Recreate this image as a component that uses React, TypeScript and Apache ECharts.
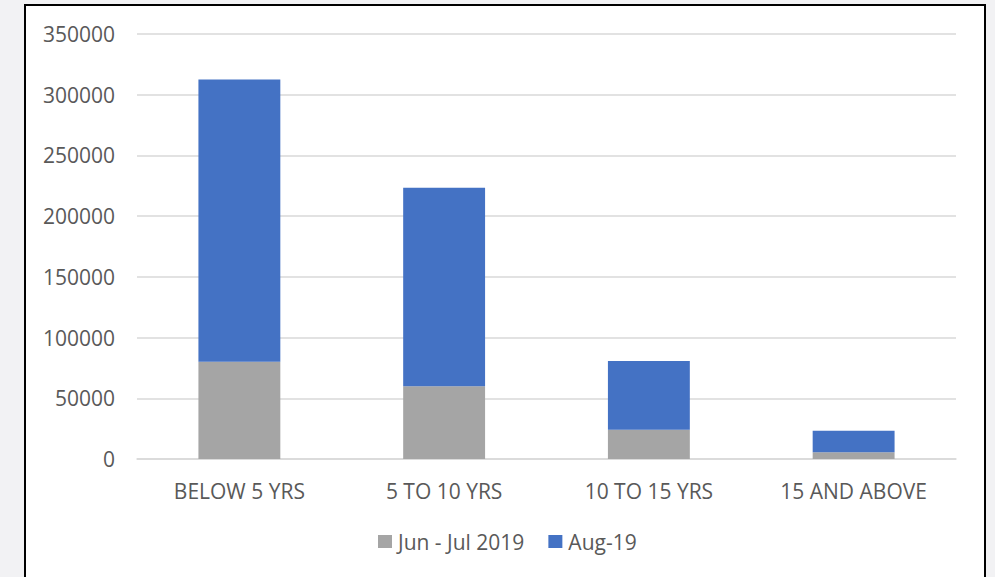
import React, { useEffect, useRef } from "react";
import * as echarts from "echarts";

const categories = ["BELOW 5 YRS", "5 TO 10 YRS", "10 TO 15 YRS", "15 AND ABOVE"];
const junJul2019 = [80000, 60000, 24000, 5500];
const aug19 = [232600, 163300, 56800, 17800];
const seriesNames = ["Jun - Jul 2019", "Aug-19"];

export default function App() {
  const ref = useRef<HTMLDivElement>(null);
  useEffect(() => {
    if (!ref.current) return;
    const chart = echarts.init(ref.current, null, { renderer: "svg" });
    const font = "'Open Sans', sans-serif";
    chart.setOption({
      animation: false,
      backgroundColor: "#f2f2f4",
      textStyle: { fontFamily: font },
      graphic: [
        {
          type: "rect",
          z: -10,
          shape: { x: 25, y: 5, width: 960, height: 600 },
          style: { fill: "#ffffff", stroke: "#000000", lineWidth: 2 },
        },
      ],
      grid: { left: 137, right: 39, top: 34, bottom: 118, containLabel: false },
      legend: {
        bottom: 20,
        left: 373,
        itemWidth: 14,
        itemHeight: 13,
        itemGap: 24,
        icon: "rect",
        textStyle: { color: "#595959", fontSize: 21, fontFamily: font, padding: [0, 0, 0, 1] },
        data: seriesNames,
      },
      xAxis: {
        type: "category",
        data: categories,
        axisLine: { lineStyle: { color: "#d9d9d9", width: 1.5 } },
        axisTick: { show: false },
        axisLabel: { color: "#595959", fontSize: 21, margin: 21, fontFamily: font },
      },
      yAxis: {
        type: "value",
        min: 0,
        max: 350000,
        interval: 50000,
        axisLine: { show: false },
        axisTick: { show: false },
        splitLine: { lineStyle: { color: "#d9d9d9", width: 1.5 } },
        axisLabel: {
          color: "#595959",
          fontSize: 21,
          margin: 22,
          fontFamily: font,
          formatter: (v: number) => String(v),
        },
      },
      series: [
        {
          name: seriesNames[0],
          type: "bar",
          stack: "total",
          data: junJul2019,
          barWidth: "40%",
          itemStyle: { color: "#a5a5a5" },
        },
        {
          name: seriesNames[1],
          type: "bar",
          stack: "total",
          data: aug19,
          barWidth: "40%",
          itemStyle: { color: "#4472c4" },
        },
      ],
    });
    return () => chart.dispose();
  }, []);
  return (
    <div
      ref={ref}
      style={{ position: "fixed", left: 0, top: 0, width: 995, height: 577 }}
    />
  );
}
